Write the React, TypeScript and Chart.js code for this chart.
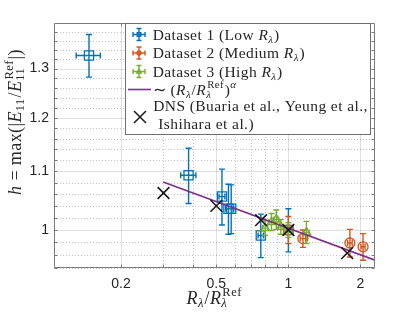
import React, { useEffect, useRef } from "react";
import { Chart, registerables } from "chart.js";

Chart.register(...registerables);

// ---- Data ----
// Dataset 1 (Low R_lambda)
const d1X = [0.147, 0.383, 0.528, 0.562, 0.577, 0.767, 1.0];
const d1Y = [1.328, 1.093, 1.056, 1.035, 1.035, 0.991, 1.0];
const d1XErr = [0.017, 0.028, 0.015, 0.015, 0.015, 0.02, 0.02];
const d1YErr = [0.046, 0.049, 0.048, 0.042, 0.041, 0.035, 0.035];

// Dataset 2 (Medium R_lambda)
const d2X = [1.0, 1.15, 1.807, 2.05];
const d2Y = [1.0, 0.986, 0.979, 0.973];
const d2XErr = [0.02, 0.03, 0.04, 0.04];
const d2YErr = [0.022, 0.014, 0.022, 0.021];

// Dataset 3 (High R_lambda)
const d3X = [0.8, 0.85, 0.89, 0.93, 1.0, 1.19];
const d3Y = [1.003, 1.013, 1.017, 1.005, 1.0, 0.996];
const d3XErr = [0.02, 0.02, 0.02, 0.02, 0.02, 0.03];
const d3YErr = [0.012, 0.014, 0.016, 0.012, 0.012, 0.018];

// DNS
const dnsX = [0.301, 0.5, 0.769, 1.0, 1.76];
const dnsY = [1.062, 1.04, 1.016, 1.0, 0.963];

// Power-law fit line
const fitX = [0.3, 2.3];
const fitY = [1.081, 0.952];

// Axes
const xRange = [0.105, 2.3];
const yRange = [0.94, 1.4];
const xMajorTicks = [0.2, 0.5, 1, 2];
const xMinorTicks = [0.3, 0.4, 0.6, 0.7, 0.8, 0.9];
const yMajorTicks = [1, 1.1, 1.2, 1.3];
const yMinorTicks = [0.94, 0.96, 0.98, 1.02, 1.04, 1.06, 1.08, 1.12, 1.14, 1.16, 1.18, 1.22, 1.24, 1.26, 1.28, 1.32, 1.34, 1.36, 1.38];

const legendLabels = ["Dataset 1 (Low ", "Dataset 2 (Medium ", "Dataset 3 (High "];
const dnsLegend = ["DNS (Buaria et al., Yeung et al.,", "Ishihara et al.)"];

// ---- Styles ----
const BLUE = "#0072BD";
const ORANGE = "#D95319";
const GREEN = "#77AC30";
const PURPLE = "#7E2F8E";
const DARK = "#262626";
const SERIF = '"Liberation Serif", "Times New Roman", serif';
const SANS = '"Liberation Sans", Arial, sans-serif';
const LEG_SIZE = 15.5;
const LEG_SPACING = "0.42px";
const LAB_SIZE = 18;
const LAB_SPACING = "0.4px";

type Seg = { t?: string; it?: boolean; sub?: string; sup?: string; subIt?: boolean; supIt?: boolean };

const fnt = (size: number, it?: boolean) => `${it ? "italic " : ""}${size}px ${SERIF}`;

function runMath(ctx: CanvasRenderingContext2D, segs: Seg[], x: number, y: number, size: number, draw: boolean) {
  let cx = x;
  const ss = size * 0.7;
  for (const s of segs) {
    if (s.t) {
      ctx.font = fnt(size, s.it);
      if (draw) ctx.fillText(s.t, cx, y);
      cx += ctx.measureText(s.t).width;
    }
    let w = 0;
    if (s.sub) {
      ctx.font = fnt(ss, s.subIt);
      if (draw) ctx.fillText(s.sub, cx, y + size * 0.22);
      w = Math.max(w, ctx.measureText(s.sub).width);
    }
    if (s.sup) {
      ctx.font = fnt(ss, s.supIt);
      const off = s.it ? size * 0.06 : 0;
      if (draw) ctx.fillText(s.sup, cx + off, y - size * 0.42);
      w = Math.max(w, ctx.measureText(s.sup).width + off);
    }
    if (w) cx += w + size * 0.04;
  }
  return cx - x;
}

function drawMath(ctx: CanvasRenderingContext2D, segs: Seg[], x: number, y: number, size: number, align: "left" | "center", spacing: string) {
  ctx.textAlign = "left";
  ctx.textBaseline = "alphabetic";
  (ctx as any).letterSpacing = spacing;
  let sx = x;
  if (align === "center") sx = x - runMath(ctx, segs, 0, 0, size, false) / 2;
  runMath(ctx, segs, sx, y, size, true);
  (ctx as any).letterSpacing = "0px";
}

const pts = (xs: number[], ys: number[]) => xs.map((x, i) => ({ x, y: ys[i] }));

const CAP = 3;

const errorBarPlugin = {
  id: "errbars",
  afterDatasetDraw(chart: any, args: any) {
    const ds = chart.data.datasets[args.index];
    if (!ds.xErr && !ds.yErr) return;
    const { ctx, chartArea } = chart;
    const xs = chart.scales.x;
    const ys = chart.scales.y;
    ctx.save();
    ctx.beginPath();
    ctx.rect(chartArea.left, chartArea.top, chartArea.right - chartArea.left, chartArea.bottom - chartArea.top);
    ctx.clip();
    ctx.strokeStyle = ds.borderColor;
    ctx.lineWidth = 1.4;
    ctx.beginPath();
    ds.data.forEach((p: any, i: number) => {
      const px = xs.getPixelForValue(p.x);
      const py = ys.getPixelForValue(p.y);
      if (ds.yErr) {
        const t = ys.getPixelForValue(p.y + ds.yErr[i]);
        const b = ys.getPixelForValue(p.y - ds.yErr[i]);
        ctx.moveTo(px, t); ctx.lineTo(px, b);
        ctx.moveTo(px - CAP, t); ctx.lineTo(px + CAP, t);
        ctx.moveTo(px - CAP, b); ctx.lineTo(px + CAP, b);
      }
      if (ds.xErr) {
        const l = xs.getPixelForValue(p.x - ds.xErr[i]);
        const r = xs.getPixelForValue(p.x + ds.xErr[i]);
        ctx.moveTo(l, py); ctx.lineTo(r, py);
        ctx.moveTo(l, py - CAP); ctx.lineTo(l, py + CAP);
        ctx.moveTo(r, py - CAP); ctx.lineTo(r, py + CAP);
      }
    });
    ctx.stroke();
    ctx.restore();
  },
};

const gridPlugin = {
  id: "mgrid",
  beforeDatasetsDraw(chart: any) {
    const { ctx, chartArea: a } = chart;
    const xs = chart.scales.x;
    const ys = chart.scales.y;
    ctx.save();
    ctx.lineWidth = 1;
    ctx.strokeStyle = "rgba(38,38,38,0.28)";
    ctx.setLineDash([1, 2]);
    ctx.beginPath();
    xMinorTicks.forEach((v) => {
      const px = Math.round(xs.getPixelForValue(v)) + 0.5;
      ctx.moveTo(px, a.top); ctx.lineTo(px, a.bottom);
    });
    yMinorTicks.forEach((v) => {
      const py = Math.round(ys.getPixelForValue(v)) + 0.5;
      ctx.moveTo(a.left, py); ctx.lineTo(a.right, py);
    });
    ctx.stroke();
    ctx.setLineDash([]);
    ctx.strokeStyle = "rgba(38,38,38,0.15)";
    ctx.beginPath();
    xMajorTicks.forEach((v) => {
      const px = Math.round(xs.getPixelForValue(v)) + 0.5;
      ctx.moveTo(px, a.top); ctx.lineTo(px, a.bottom);
    });
    yMajorTicks.forEach((v) => {
      const py = Math.round(ys.getPixelForValue(v)) + 0.5;
      ctx.moveTo(a.left, py); ctx.lineTo(a.right, py);
    });
    ctx.stroke();
    ctx.restore();
  },
  afterDatasetsDraw(chart: any) {
    const { ctx, chartArea: a } = chart;
    const xs = chart.scales.x;
    const ys = chart.scales.y;
    ctx.save();
    ctx.strokeStyle = "#7a7a7a";
    ctx.lineWidth = 1;
    ctx.beginPath();
    const L = Math.round(a.left) + 0.5, R = Math.round(a.right) - 0.5;
    const T = Math.round(a.top) + 0.5, B = Math.round(a.bottom) - 0.5;
    ctx.rect(L, T, R - L, B - T);
    const tl = 3;
    [...xMajorTicks, ...xMinorTicks].forEach((v) => {
      const px = Math.round(xs.getPixelForValue(v)) + 0.5;
      ctx.moveTo(px, B); ctx.lineTo(px, B - tl);
      ctx.moveTo(px, T); ctx.lineTo(px, T + tl);
    });
    [...yMajorTicks, ...yMinorTicks].forEach((v) => {
      const py = Math.round(ys.getPixelForValue(v)) + 0.5;
      ctx.moveTo(L, py); ctx.lineTo(L + tl, py);
      ctx.moveTo(R, py); ctx.lineTo(R - tl, py);
    });
    ctx.stroke();
    ctx.restore();
  },
};

function errIcon(ctx: CanvasRenderingContext2D, x: number, y: number, color: string, kind: string) {
  ctx.strokeStyle = color;
  ctx.lineWidth = 1.4;
  ctx.beginPath();
  ctx.moveTo(x - 6, y); ctx.lineTo(x + 6, y);
  ctx.moveTo(x - 6, y - 2.5); ctx.lineTo(x - 6, y + 2.5);
  ctx.moveTo(x + 6, y - 2.5); ctx.lineTo(x + 6, y + 2.5);
  ctx.moveTo(x, y - 6); ctx.lineTo(x, y + 6);
  ctx.moveTo(x - 2.5, y - 6); ctx.lineTo(x + 2.5, y - 6);
  ctx.moveTo(x - 2.5, y + 6); ctx.lineTo(x + 2.5, y + 6);
  ctx.stroke();
  ctx.beginPath();
  if (kind === "rect") ctx.rect(x - 1.8, y - 1.8, 3.6, 3.6);
  else if (kind === "circle") ctx.arc(x, y, 2, 0, Math.PI * 2);
  else { ctx.moveTo(x, y - 2.4); ctx.lineTo(x + 2.2, y + 1.6); ctx.lineTo(x - 2.2, y + 1.6); ctx.closePath(); }
  ctx.stroke();
}

const overlayPlugin = {
  id: "overlay",
  afterDraw(chart: any) {
    const { ctx, chartArea: a } = chart;
    ctx.save();
    ctx.fillStyle = DARK;
    // Y axis title
    ctx.save();
    ctx.translate(20.5, 122);
    ctx.rotate(-Math.PI / 2);
    drawMath(ctx, [
      { t: "h", it: true },
      { t: " = max(|" },
      { t: "E", it: true, sub: "11" },
      { t: "/" },
      { t: "E", it: true, sub: "11", sup: "Ref" },
      { t: "|)" },
    ], 0, 0, LAB_SIZE, "center", LAB_SPACING);
    ctx.restore();
    // X axis title
    drawMath(ctx, [
      { t: "R", it: true, sub: "λ", subIt: true },
      { t: "/" },
      { t: "R", it: true, sub: "λ", subIt: true, sup: "Ref" },
    ], (a.left + a.right) / 2, 303.5, LAB_SIZE, "center", LAB_SPACING);

    // Legend
    const L = a.left + 71.5, T = a.top + 0.5, R = a.left + 316.5, B = a.top + 111.5;
    ctx.fillStyle = "#ffffff";
    ctx.fillRect(L, T, R - L, B - T);
    ctx.strokeStyle = "#6e6e6e";
    ctx.lineWidth = 1;
    ctx.strokeRect(L, T, R - L, B - T);

    const tx = a.left + 98.7;
    const ix = a.left + 85;
    const base = [a.top + 16.5, a.top + 35, a.top + 53.5];
    const cols = [BLUE, ORANGE, GREEN];
    const kinds = ["rect", "circle", "triangle"];
    for (let i = 0; i < 3; i++) {
      errIcon(ctx, ix, base[i] - 5, cols[i], kinds[i]);
      ctx.fillStyle = DARK;
      drawMath(ctx, [{ t: legendLabels[i] }, { t: "R", it: true, sub: "λ", subIt: true }, { t: ")" }], tx, base[i], LEG_SIZE, "left", LEG_SPACING);
    }
    // fit line entry
    const ly = a.top + 66.5;
    ctx.strokeStyle = PURPLE;
    ctx.lineWidth = 1.6;
    ctx.beginPath();
    ctx.moveTo(a.left + 74, ly); ctx.lineTo(a.left + 97, ly);
    ctx.stroke();
    ctx.fillStyle = DARK;
    drawMath(ctx, [
      { t: "∼ (" },
      { t: "R", it: true, sub: "λ", subIt: true },
      { t: "/" },
      { t: "R", it: true, sub: "λ", subIt: true, sup: "Ref" },
      { t: ")", sup: "α", supIt: true },
    ], tx, a.top + 71.5, LEG_SIZE, "left", LEG_SPACING);
    // DNS entry
    const xcx = a.left + 86, xcy = a.top + 94;
    ctx.strokeStyle = "#1a1a1a";
    ctx.lineWidth = 1.5;
    ctx.beginPath();
    ctx.moveTo(xcx - 6, xcy - 6); ctx.lineTo(xcx + 6, xcy + 6);
    ctx.moveTo(xcx - 6, xcy + 6); ctx.lineTo(xcx + 6, xcy - 6);
    ctx.stroke();
    ctx.fillStyle = DARK;
    ctx.font = fnt(LEG_SIZE);
    ctx.textAlign = "left";
    ctx.textBaseline = "alphabetic";
    (ctx as any).letterSpacing = LEG_SPACING;
    ctx.fillText(dnsLegend[0], tx + 0.5, a.top + 88);
    ctx.fillText(dnsLegend[1], tx + 5.5, a.top + 106);
    (ctx as any).letterSpacing = "0px";
    ctx.restore();
  },
};

export default function App() {
  const ref = useRef<HTMLCanvasElement | null>(null);
  useEffect(() => {
    if (!ref.current) return;
    const chart = new Chart(ref.current, {
      type: "scatter",
      data: {
        datasets: [
          {
            label: "DNS",
            data: pts(dnsX, dnsY),
            pointStyle: "crossRot",
            pointRadius: 8.3,
            borderColor: "#1a1a1a",
            backgroundColor: "rgba(0,0,0,0)",
            borderWidth: 1.6,
            order: 0,
          },
          {
            label: "fit",
            data: pts(fitX, fitY),
            showLine: true,
            pointRadius: 0,
            borderColor: PURPLE,
            borderWidth: 1.6,
            order: 1,
          },
          {
            label: "Dataset 3",
            data: pts(d3X, d3Y),
            xErr: d3XErr,
            yErr: d3YErr,
            pointStyle: "triangle",
            pointRadius: 5,
            borderColor: GREEN,
            backgroundColor: "rgba(0,0,0,0)",
            borderWidth: 1.3,
            order: 2,
          } as any,
          {
            label: "Dataset 2",
            data: pts(d2X, d2Y),
            xErr: d2XErr,
            yErr: d2YErr,
            pointStyle: "circle",
            pointRadius: 5,
            borderColor: ORANGE,
            backgroundColor: "rgba(0,0,0,0)",
            borderWidth: 1.3,
            order: 3,
          } as any,
          {
            label: "Dataset 1",
            data: pts(d1X, d1Y),
            xErr: d1XErr,
            yErr: d1YErr,
            pointStyle: "rect",
            pointRadius: 6.5,
            borderColor: BLUE,
            backgroundColor: "rgba(0,0,0,0)",
            borderWidth: 1.3,
            order: 4,
          } as any,
        ],
      },
      options: {
        animation: false,
        responsive: false,
        devicePixelRatio: 1,
        events: [],
        layout: { padding: { top: 23, right: 40, left: 0, bottom: 0 } },
        plugins: { legend: { display: false }, tooltip: { enabled: false } },
        scales: {
          x: {
            type: "logarithmic",
            min: xRange[0],
            max: xRange[1],
            afterBuildTicks: (s: any) => {
              s.ticks = xMajorTicks.map((v) => ({ value: v }));
            },
            afterFit: (s: any) => {
              s.height = 44;
            },
            grid: { display: false, drawTicks: false },
            border: { display: false },
            ticks: {
              autoSkip: false,
              maxRotation: 0,
              padding: 8,
              color: DARK,
              font: { family: SANS, size: 14 },
              callback: (v: any) => String(v),
            },
          },
          y: {
            type: "logarithmic",
            min: yRange[0],
            max: yRange[1],
            afterBuildTicks: (s: any) => {
              s.ticks = yMajorTicks.map((v) => ({ value: v }));
            },
            afterFit: (s: any) => {
              s.width = 54;
            },
            grid: { display: false, drawTicks: false },
            border: { display: false },
            ticks: {
              autoSkip: false,
              padding: 5,
              color: DARK,
              font: { family: SANS, size: 14 },
              callback: (v: any) => String(v),
            },
          },
        },
      } as any,
      plugins: [gridPlugin, errorBarPlugin, overlayPlugin],
    });
    return () => chart.destroy();
  }, []);
  return (
    <div style={{ position: "fixed", left: 0, top: 0, width: 415, height: 312, background: "#fff" }}>
      <canvas ref={ref} width={415} height={312} style={{ display: "block", width: 415, height: 312 }} />
    </div>
  );
}
